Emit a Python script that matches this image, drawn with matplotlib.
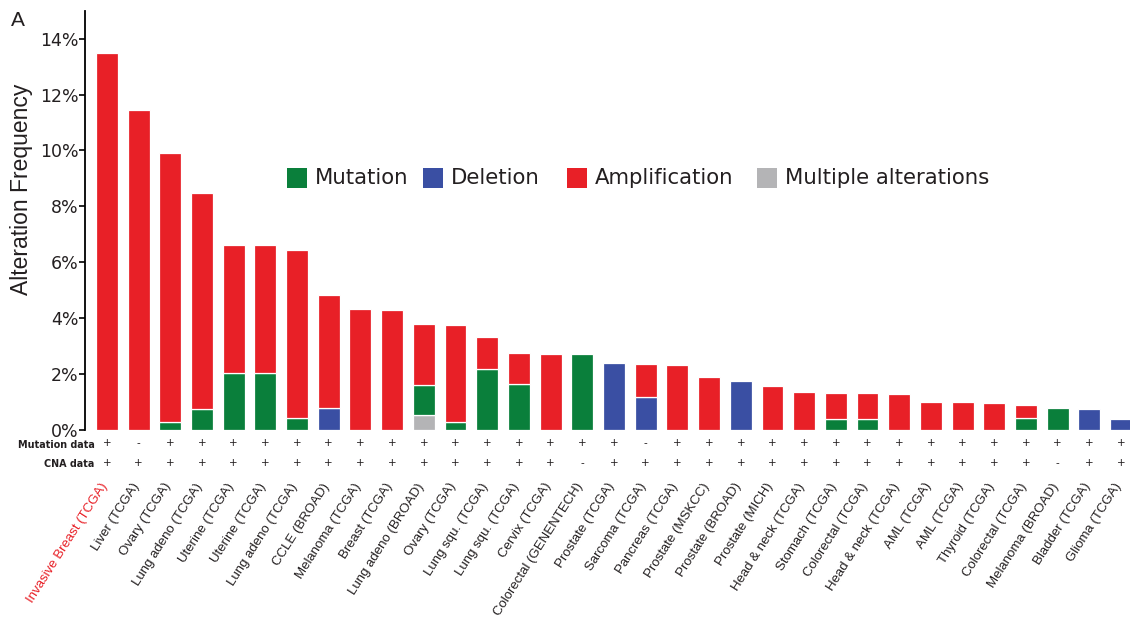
import matplotlib
matplotlib.use("Agg")
import matplotlib.pyplot as plt
from matplotlib import transforms
from matplotlib.patches import Rectangle
import numpy as np

plt.rcParams["font.family"] = ["Liberation Sans", "DejaVu Sans"]

# ---- data -------------------------------------------------------------
studies = [
    "Invasive Breast (TCGA)", "Liver (TCGA)", "Ovary (TCGA)", "Lung adeno (TCGA)",
    "Uterine (TCGA)", "Uterine (TCGA)", "Lung adeno (TCGA)", "CCLE (BROAD)",
    "Melanoma (TCGA)", "Breast (TCGA)", "Lung adeno (BROAD)", "Ovary (TCGA)",
    "Lung squ. (TCGA)", "Lung squ. (TCGA)", "Cervix (TCGA)", "Colorectal (GENENTECH)",
    "Prostate (TCGA)", "Sarcoma (TCGA)", "Pancreas (TCGA)", "Prostate (MSKCC)",
    "Prostate (BROAD)", "Prostate (MICH)", "Head & neck (TCGA)", "Stomach (TCGA)",
    "Colorectal (TCGA)", "Head & neck (TCGA)", "AML (TCGA)", "AML (TCGA)",
    "Thyroid (TCGA)", "Colorectal (TCGA)", "Melanoma (BROAD)", "Bladder (TCGA)",
    "Glioma (TCGA)",
]

# alteration frequency (%) per study, split by alteration type
multiple = [0, 0, 0, 0, 0, 0, 0, 0, 0, 0, 0.52, 0, 0, 0, 0, 0, 0,
            0, 0, 0, 0, 0, 0, 0, 0, 0, 0, 0, 0, 0, 0, 0, 0]
mutation = [0, 0, 0.30, 0.74, 2.04, 2.04, 0.42, 0, 0, 0, 1.09, 0.27, 2.20, 1.63, 0, 2.73, 0,
            0, 0, 0, 0, 0, 0, 0.40, 0.40, 0, 0, 0, 0, 0.42, 0.77, 0, 0]
deletion = [0, 0, 0, 0, 0, 0, 0, 0.77, 0, 0, 0, 0, 0, 0, 0, 0, 2.39,
            1.17, 0, 0, 1.74, 0, 0, 0, 0, 0, 0, 0, 0, 0, 0, 0.74, 0.40]
amplification = [13.50, 11.45, 9.62, 7.74, 4.57, 4.57, 6.03, 4.05, 4.33, 4.30, 2.19, 3.48,
                 1.11, 1.14, 2.73, 0, 0, 1.19, 2.32, 1.88, 0, 1.58, 1.37, 0.92, 0.91, 1.27,
                 1.01, 1.01, 0.95, 0.47, 0, 0, 0]

mutation_data = ["+", "-", "+", "+", "+", "+", "+", "+", "+", "+", "+", "+", "+", "+", "+", "+", "+",
                 "-", "+", "+", "+", "+", "+", "+", "+", "+", "+", "+", "+", "+", "+", "+", "+"]
cna_data = ["+", "+", "+", "+", "+", "+", "+", "+", "+", "+", "+", "+", "+", "+", "+", "-", "+",
            "+", "+", "+", "+", "+", "+", "+", "+", "+", "+", "+", "+", "+", "-", "+", "+"]

y_ticks = [0, 2, 4, 6, 8, 10, 12, 14]
legend_labels = ["Mutation", "Deletion", "Amplification", "Multiple alterations"]

# ---- style ------------------------------------------------------------
RED = "#e82027"
GREEN = "#0a7f3b"
BLUE = "#3a4fa3"
GRAY = "#b4b4b6"
INK = "#231f20"

W, H = 1130, 618
fig = plt.figure(figsize=(W / 100, H / 100), dpi=100)
ax = fig.add_axes([85 / W, 1 - 430 / H, (W - 85) / W, (430 - 10.7) / H])

x = np.arange(len(studies))
bottom = np.zeros(len(studies))
for seg, color in [(multiple, GRAY), (mutation, GREEN), (deletion, BLUE), (amplification, RED)]:
    h = np.asarray(seg, dtype=float)
    m = h > 0
    ax.bar(x[m], h[m], bottom=bottom[m], width=0.69, color=color,
           edgecolor="white", linewidth=0.9, zorder=2)
    bottom += h

ax.set_xlim(-0.69, 32.28)
ax.set_ylim(0, 15)

for side in ("top", "right", "bottom"):
    ax.spines[side].set_visible(False)
ax.spines["left"].set_linewidth(1.3)
ax.spines["left"].set_color("black")

ax.set_yticks(y_ticks)
ax.set_yticklabels([f"{v}%" for v in y_ticks], family="DejaVu Sans",
                   fontsize=12.5, color=INK)
ax.tick_params(axis="y", direction="out", length=4, width=1.2, pad=0.5)

# study names below the rows of data flags
ax.set_xticks(x)
ax.set_xticklabels(studies, rotation=57.5, ha="right", va="center",
                   rotation_mode="anchor", fontsize=9.5, color=INK)
ax.tick_params(axis="x", length=0, pad=39)
shift = transforms.ScaledTranslation(-2 / 100, 0, fig.dpi_scale_trans)
for lbl in ax.get_xticklabels():
    lbl.set_transform(lbl.get_transform() + shift)
ax.get_xticklabels()[0].set_color(RED)

# mutation / CNA data availability rows
row_tr = transforms.blended_transform_factory(ax.transData, ax.transAxes)
ax_h = 430 - 10.7
for row_y, name_y, flags, name in [(-13.0 / ax_h, -15.0 / ax_h, mutation_data, "Mutation data"),
                                   (-33.3 / ax_h, -33.8 / ax_h, cna_data, "CNA data")]:
    ax.text(-0.38, name_y, name, transform=row_tr, ha="right", va="center",
            family="DejaVu Sans", fontweight="bold", fontsize=6.9, color=INK,
            clip_on=False)
    for xi, f in zip(x, flags):
        ax.text(xi, row_y, f, transform=row_tr, ha="center", va="center",
                family="DejaVu Sans", fontsize=7.5, color=INK, clip_on=False)

# y label and panel letter
fig.text(22 / W, 1 - 189 / H, "Alteration Frequency", rotation=90,
         ha="center", va="center", fontsize=16.5, color=INK)
fig.text(11 / W, 1 - 20.5 / H, "A", ha="left", va="center", fontsize=15, color=INK)

# legend row
legend_colors = [GREEN, BLUE, RED, GRAY]
square_x = [287.3, 422.7, 566.7, 756.7]
for sx, col, lab in zip(square_x, legend_colors, legend_labels):
    fig.patches.append(Rectangle((sx / W, 1 - 188.3 / H), 20 / W, 20 / H,
                                 transform=fig.transFigure, facecolor=col,
                                 edgecolor="none"))
    fig.text((sx + 28) / W, 1 - 178.3 / H, lab, ha="left", va="center",
             family="DejaVu Sans", fontsize=15.3, color=INK)

fig.savefig("out.png", dpi=100, facecolor="white")
